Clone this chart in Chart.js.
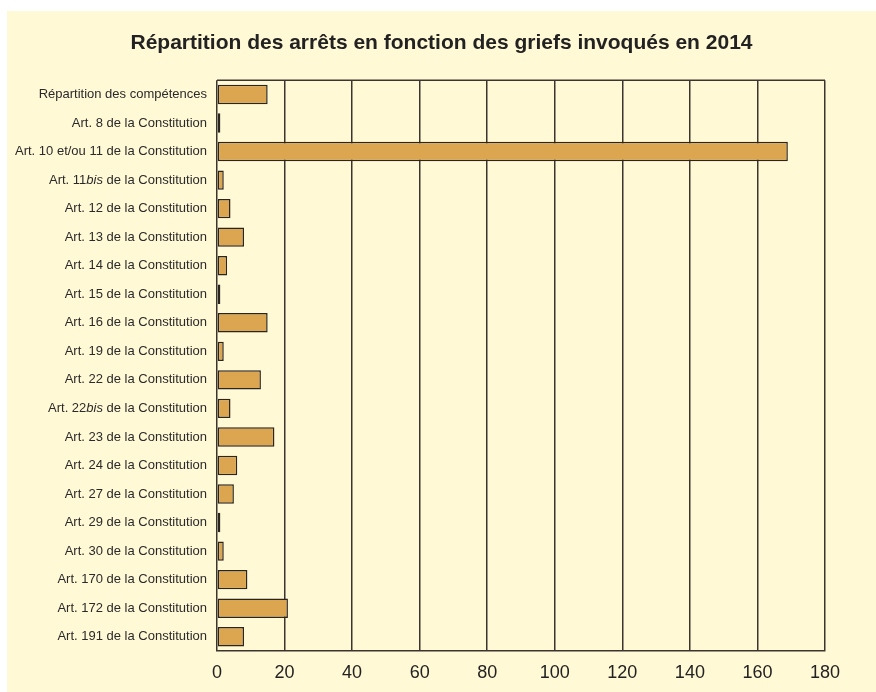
<!DOCTYPE html>
<html lang="fr">
<head>
<meta charset="utf-8">
<script src="https://cdn.jsdelivr.net/npm/chart.js@4"></script>
<style>
  body { margin: 0; background: #fff; }
  #panel { position: absolute; left: 7px; top: 11px; width: 869px; height: 681px; background: #fff9d6; }
</style>
</head>
<body>
<div id="panel"><canvas id="griefChart" width="869" height="681"></canvas></div>
<script>
// ====== DONNEES ======
const categories = [
  "Répartition des compétences",
  "Art. 8 de la Constitution",
  "Art. 10 et/ou 11 de la Constitution",
  "Art. 11bis de la Constitution",
  "Art. 12 de la Constitution",
  "Art. 13 de la Constitution",
  "Art. 14 de la Constitution",
  "Art. 15 de la Constitution",
  "Art. 16 de la Constitution",
  "Art. 19 de la Constitution",
  "Art. 22 de la Constitution",
  "Art. 22bis de la Constitution",
  "Art. 23 de la Constitution",
  "Art. 24 de la Constitution",
  "Art. 27 de la Constitution",
  "Art. 29 de la Constitution",
  "Art. 30 de la Constitution",
  "Art. 170 de la Constitution",
  "Art. 172 de la Constitution",
  "Art. 191 de la Constitution"
];
const arrets = [15, 1, 169, 2, 4, 8, 3, 1, 15, 2, 13, 4, 17, 6, 5, 1, 2, 9, 21, 8];
const xTicks = [0, 20, 40, 60, 80, 100, 120, 140, 160, 180];
const titre = "Répartition des arrêts en fonction des griefs invoqués en 2014";

const FONT = "'Liberation Sans', Arial, sans-serif";

// ====== LIBELLES (avec "bis" en italique) + bord haut ======
const labelPlugin = {
  id: "labelPlugin",
  beforeDatasetsDraw(chart) {
    const { ctx, chartArea: a } = chart;
    ctx.save();
    ctx.strokeStyle = "#3b3530";
    ctx.lineWidth = 1.5;
    ctx.beginPath();
    ctx.moveTo(a.left, a.top);
    ctx.lineTo(a.right, a.top);
    ctx.stroke();
    ctx.restore();
  },
  afterDraw(chart) {
    const { ctx, chartArea } = chart;
    const y = chart.scales.y;
    ctx.save();
    ctx.fillStyle = "#2a2a2a";
    ctx.textBaseline = "middle";
    ctx.textAlign = "left";
    const normal = "13px " + FONT;
    const italic = "italic 13px " + FONT;
    chart.data.labels.forEach((lab, i) => {
      const parts = lab.split(/(bis)/).filter((p) => p);
      let w = 0;
      parts.forEach((p) => {
        ctx.font = p === "bis" ? italic : normal;
        w += ctx.measureText(p).width;
      });
      let x = chartArea.left - 10 - w;
      const py = y.getPixelForValue(i);
      parts.forEach((p) => {
        ctx.font = p === "bis" ? italic : normal;
        ctx.fillText(p, x, py);
        x += ctx.measureText(p).width;
      });
    });
    ctx.restore();
  }
};

// ====== GRAPHIQUE ======
new Chart(document.getElementById("griefChart").getContext("2d"), {
  type: "bar",
  data: {
    labels: categories,
    datasets: [
      {
        data: arrets,
        backgroundColor: "#dca550",
        borderColor: "#2b2520",
        borderWidth: 1.5,
        borderSkipped: false,
        barPercentage: 0.68,
        categoryPercentage: 1,
      },
    ],
  },
  options: {
    indexAxis: "y",
    responsive: false,
    animation: false,
    layout: { padding: 0 },
    plugins: {
      legend: { display: false },
      tooltip: { enabled: false },
      title: {
        display: true,
        text: titre,
        color: "#222",
        font: { family: FONT, size: 21, weight: "bold" },
        padding: { top: 20, bottom: 24 },
      },
    },
    scales: {
      x: {
        min: 0,
        max: 180,
        afterBuildTicks: (axis) => { axis.ticks = xTicks.map((v) => ({ value: v })); },
        afterFit: (axis) => { axis.height = 41; },
        grid: { color: "#3b3530", lineWidth: 1.5, drawTicks: false },
        border: { color: "#3b3530", width: 1.5 },
        ticks: {
          color: "#222",
          padding: 13,
          font: { family: FONT, size: 18, lineHeight: 1 },
        },
      },
      y: {
        afterFit: (axis) => { axis.width = 210; },
        grid: { display: false },
        border: { display: false },
        ticks: { display: false },
      },
      // marge droite vide (garde le titre centré sur toute la largeur)
      yMarge: {
        type: "linear",
        position: "right",
        display: true,
        afterFit: (axis) => { axis.width = 51; },
        grid: { display: false },
        border: { display: false },
        ticks: { display: false },
      },
    },
  },
  plugins: [labelPlugin],
});
</script>
</body>
</html>
